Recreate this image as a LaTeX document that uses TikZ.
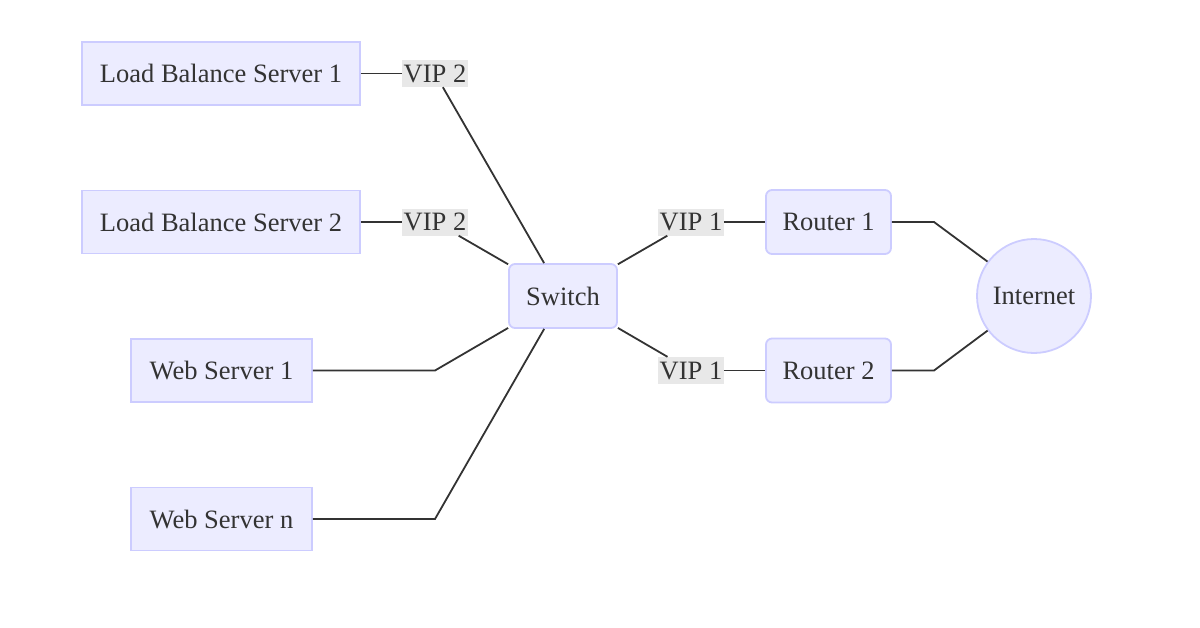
\documentclass[tikz,border=0pt]{standalone}
\usepackage{fontspec}
\setmainfont{Liberation Serif}
\definecolor{nodefill}{HTML}{ECECFF}
\definecolor{nodedraw}{HTML}{CCCCFF}
\definecolor{txt}{HTML}{333333}
\definecolor{edge}{HTML}{333333}
\definecolor{lblbg}{HTML}{E8E8E8}
\begin{document}
\begin{tikzpicture}[x=1pt,y=-1pt,
  box/.style={draw=nodedraw,fill=nodefill,line width=1.8pt,text=txt,font=\fontsize{26.5}{30}\selectfont,inner sep=0pt,minimum height=63pt},
  rbox/.style={box,rounded corners=6pt},
  circ/.style={circle,draw=nodedraw,fill=nodefill,line width=1.8pt,text=txt,font=\fontsize{26.5}{30}\selectfont,inner sep=0pt,minimum size=114pt},
  lbl/.style={fill=lblbg,text=txt,font=\fontsize{26.5}{30}\selectfont,inner xsep=1.5pt,inner ysep=0pt,minimum height=27pt},
  conn/.style={draw=edge,line width=1.8pt}]
\useasboundingbox (0,0) rectangle (1200,627);
\node[box,minimum width=278pt] (lb1) at (221,73.5) {Load Balance Server 1};
\node[box,minimum width=278pt] (lb2) at (221,222) {Load Balance Server 2};
\node[box,minimum width=181pt] (ws1) at (221.5,370.5) {Web Server 1};
\node[box,minimum width=181pt] (wsn) at (221.5,519) {Web Server n};
\node[rbox,minimum width=108pt,minimum height=64pt] (sw) at (563,296) {Switch};
\node[rbox,minimum width=125pt,minimum height=64pt] (r1) at (828.5,222) {Router 1};
\node[rbox,minimum width=125pt,minimum height=64pt] (r2) at (828.5,370.5) {Router 2};
\node[circ] (inet) at (1034,296) {Internet};
\node[lbl] (v2a) at (435,73.5) {VIP 2};
\node[lbl] (v2b) at (435,222) {VIP 2};
\node[lbl] (v1a) at (691,222) {VIP 1};
\node[lbl] (v1b) at (691,370.5) {VIP 1};
\coordinate (b1) at (435,370.5);
\coordinate (bn) at (435,519);
\coordinate (c1) at (934,222);
\coordinate (c2) at (934,370.5);
\draw[conn] (lb1) -- (v2a);
\draw[conn] (v2a) -- (sw);
\draw[conn] (lb2) -- (v2b);
\draw[conn] (v2b) -- (sw);
\draw[conn] (ws1) -- (b1) -- (sw);
\draw[conn] (wsn) -- (bn) -- (sw);
\draw[conn] (sw) -- (v1a);
\draw[conn] (v1a) -- (r1);
\draw[conn] (sw) -- (v1b);
\draw[conn] (v1b) -- (r2);
\draw[conn] (r1) -- (c1) -- (inet);
\draw[conn] (r2) -- (c2) -- (inet);
\end{tikzpicture}
\end{document}
